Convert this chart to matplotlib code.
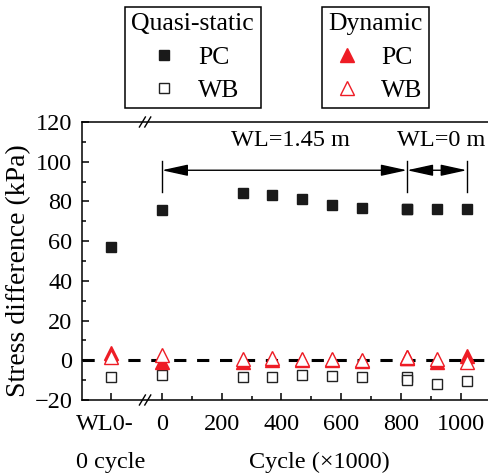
import matplotlib
matplotlib.use('Agg')
from matplotlib import pyplot as plt
from matplotlib.lines import Line2D

# data (cycle in x1000); first value of each series is the "WL0-0 cycle" state
cycles = [0, 270, 370, 470, 570, 670, 820, 820, 920, 1020]
qs_pc = [57, 75.5, 84.2, 83.1, 81.4, 78.4, 76.7, 76.0, 76.0, 76.4, 76.3]
qs_wb = [-8.4, -7.5, -8.4, -8.4, -7.2, -7.9, -8.4, -8.4, -10.0, -11.7, -10.6]
dyn_pc = [3.5, -1.0, -1.0, 0.0, 0.0, 0.0, -0.5, 1.0, 1.0, -1.0, 2.0]
dyn_wb = [1.5, 2.5, 0.5, 1.0, 0.5, 0.5, 0.0, 1.5, 1.5, 0.5, -1.0]

X_WL0 = -170      # where the WL0 point sits left of the axis break
X_BREAK = -56

plt.rcParams['font.family'] = ['Liberation Serif', 'DejaVu Serif']
plt.rcParams['font.size'] = 17.5

fig = plt.figure(figsize=(4.89, 4.74), dpi=100)
ax = fig.add_axes([82 / 489, 1 - 400 / 474, 406 / 489, 278 / 474])

xs = [X_WL0] + cycles
red = '#ee1c25'

ax.axhline(0, color='k', lw=2.2, ls=(0, (4, 3.5)), zorder=1)
ax.plot(xs, qs_pc, 's', color='#1a1a1a', ms=7, zorder=3)
ax.plot(xs, qs_wb, 's', mfc='white', mec='#222222', mew=1.0, ms=7, zorder=3)
ax.plot(xs, dyn_pc, '^', color=red, ms=9.5, zorder=4)
ax.plot(xs, dyn_wb, '^', mfc='white', mec=red, mew=1.0, ms=9.5, zorder=5)

ax.set_xlim(-267, 1091)
ax.set_ylim(-20, 120)
ax.set_yticks(range(-20, 121, 20))
ax.set_yticks(range(-20, 121, 10), minor=True)
ax.set_xticks([X_WL0] + list(range(0, 1001, 200)))
ax.set_xticklabels([''] + [str(v) for v in range(0, 1001, 200)])
ax.set_xticks(range(100, 1000, 200), minor=True)
ax.tick_params(which='both', direction='in', width=1.1, labelsize=17.5)
ax.tick_params(axis='x', pad=10)
ax.tick_params(axis='y', pad=7)
ax.tick_params(which='major', length=5)
ax.tick_params(which='minor', length=3)
ax.spines['right'].set_visible(False)
for s in ['left', 'bottom', 'top']:
    ax.spines[s].set_linewidth(1.1)

ax.text(X_WL0, -0.05, 'WL0-\n0 cycle', transform=ax.get_xaxis_transform(),
        ha='center', va='top', multialignment='left', linespacing=2.05, fontsize=17.5)

# axis break marks
for yb in (0, 1):
    for dx in (-9, 9):
        ax.plot([X_BREAK + dx - 10, X_BREAK + dx + 10], [yb - 0.018, yb + 0.018],
                transform=ax.get_xaxis_transform(), color='k', lw=1.0, clip_on=False, zorder=6)

ax.set_ylabel('Stress difference (kPa)', fontsize=20)
ax.yaxis.set_label_coords(-0.125, (400 - 271) / 278)
ax.set_xlabel('Cycle (×1000)', fontsize=17.5)
ax.xaxis.set_label_coords((319 - 82) / 406, -0.185)

# water level stage arrows
arr = dict(arrowstyle='<|-|>, head_length=1.6, head_width=0.35', mutation_scale=10,
           color='k', lw=1.0, shrinkA=0, shrinkB=0)
ax.annotate('', xy=(0, 95.7), xytext=(820, 95.7), arrowprops=arr)
ax.annotate('', xy=(820, 95.7), xytext=(1020, 95.7), arrowprops=arr)
for xv in (0, 820, 1020):
    ax.plot([xv, xv], [84.5, 100.5], color='k', lw=1.0)
ax.text(429, 110.8, 'WL=1.45 m', ha='center', va='center', fontsize=17.5)
ax.text(934, 110.8, 'WL=0 m', ha='center', va='center', fontsize=17.5)

# legends above the axes
h_qs = [Line2D([], [], ls='none', marker='s', color='#1a1a1a', ms=7),
        Line2D([], [], ls='none', marker='s', mfc='white', mec='#222222', ms=7)]
h_dy = [Line2D([], [], ls='none', marker='^', color=red, ms=9.5),
        Line2D([], [], ls='none', marker='^', mfc='white', mec=red, ms=9.5)]
kw = dict(frameon=True, fancybox=False, edgecolor='k', framealpha=1, fontsize=18.5,
          title_fontsize=18.5, handlelength=1.4, handletextpad=0.65, labelspacing=0.4,
          borderpad=0.25, borderaxespad=0, loc='upper left')
leg1 = fig.legend(h_qs, ['PC', 'WB'], title='Quasi-static',
                  bbox_to_anchor=(125 / 489, 1 - 7 / 474), **kw)
leg2 = fig.legend(h_dy, ['PC', 'WB'], title='Dynamic',
                  bbox_to_anchor=(322 / 489, 1 - 7 / 474), **kw)
for lg in (leg1, leg2):
    lg.get_frame().set_linewidth(1.1)

fig.savefig('out.png', dpi=100)
